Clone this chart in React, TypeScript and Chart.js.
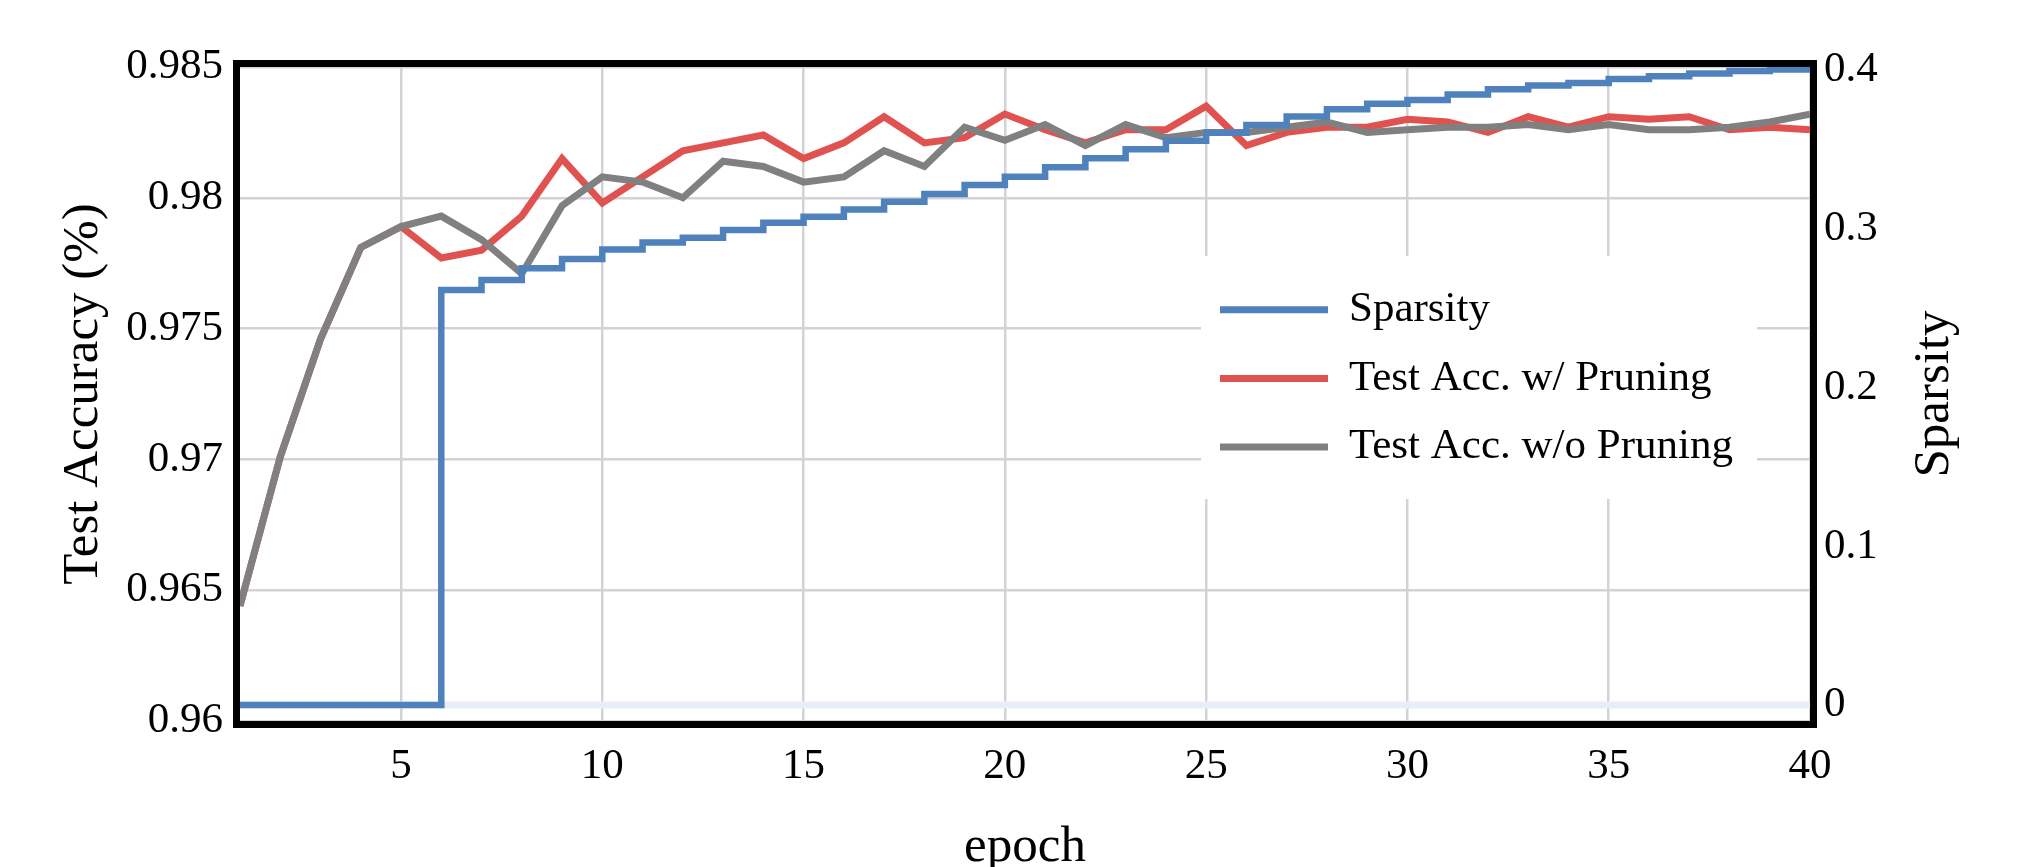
import React, { useEffect, useRef } from 'react';
import { Chart, registerables } from 'chart.js';

Chart.register(...registerables);

const epochs = [1, 2, 3, 4, 5, 6, 7, 8, 9, 10, 11, 12, 13, 14, 15, 16, 17, 18, 19, 20,
  21, 22, 23, 24, 25, 26, 27, 28, 29, 30, 31, 32, 33, 34, 35, 36, 37, 38, 39, 40];

const sparsity = [0, 0, 0, 0, 0, 0.2614, 0.2677, 0.2751, 0.2809, 0.2870, 0.2914, 0.2944, 0.2992,
  0.3038, 0.3076, 0.3122, 0.3170, 0.3219, 0.3275, 0.3328, 0.3387, 0.3444, 0.3501, 0.3555, 0.3605,
  0.3654, 0.3707, 0.3753, 0.3787, 0.3811, 0.3845, 0.3879, 0.3902, 0.3918, 0.3943, 0.3960, 0.3978,
  0.3994, 0.4003, 0.4006];

const accWithPruning = [0.9644, 0.9701, 0.9746, 0.9781, 0.9789, 0.9777, 0.9780, 0.9793, 0.9815,
  0.9798, 0.9808, 0.9818, 0.9821, 0.9824, 0.9815, 0.9821, 0.9831, 0.9821, 0.9823, 0.9832, 0.9826,
  0.9821, 0.9826, 0.9826, 0.9835, 0.9820, 0.9825, 0.9827, 0.9827, 0.9830, 0.9829, 0.9825, 0.9831,
  0.9827, 0.9831, 0.9830, 0.9831, 0.9826, 0.9827, 0.9826];

const accWithoutPruning = [0.9644, 0.9701, 0.9746, 0.9781, 0.9789, 0.9793, 0.9784, 0.9771, 0.9797,
  0.9808, 0.9806, 0.9800, 0.9814, 0.9812, 0.9806, 0.9808, 0.9818, 0.9812, 0.9827, 0.9822, 0.9828,
  0.9820, 0.9828, 0.9823, 0.9825, 0.9825, 0.9827, 0.9829, 0.9825, 0.9826, 0.9827, 0.9827, 0.9828,
  0.9826, 0.9828, 0.9826, 0.9826, 0.9827, 0.9829, 0.9832];

const xTicks = [5, 10, 15, 20, 25, 30, 35, 40];
const accTicks = [0.96, 0.965, 0.97, 0.975, 0.98, 0.985];
const accTickLabels = ['0.96', '0.965', '0.97', '0.975', '0.98', '0.985'];
const sparsityTicks = [0, 0.1, 0.2, 0.3, 0.4];
const sparsityTickLabels = ['0', '0.1', '0.2', '0.3', '0.4'];

const seriesLabels = ['Sparsity', 'Test Acc. w/ Pruning', 'Test Acc. w/o Pruning'];
const xTitle = 'epoch';
const yTitle = 'Test Accuracy (%)';
const y1Title = 'Sparsity';

const FONT = '"Liberation Serif", "Times New Roman", serif';
const BLUE = '#4f81bd';
const RED = '#e0524f';
const GRAY = '#808080';
const GRID = '#d3d3d7';

const zeroLinePlugin = {
  id: 'zeroLine',
  beforeDatasetsDraw(chart: any) {
    const { ctx, chartArea } = chart;
    const y = chart.scales.y1.getPixelForValue(0);
    ctx.save();
    ctx.strokeStyle = '#e8edf7';
    ctx.lineWidth = 7;
    ctx.beginPath();
    ctx.moveTo(chartArea.left, y);
    ctx.lineTo(chartArea.right, y);
    ctx.stroke();
    ctx.restore();
  },
};

const boxLegendPlugin = {
  id: 'boxLegend',
  afterDatasetsDraw(chart: any) {
    const { ctx, chartArea } = chart;
    const x0 = chartArea.right - 609;
    const y0 = chartArea.top + 189;
    ctx.save();
    ctx.fillStyle = '#ffffff';
    ctx.fillRect(x0, y0, 556, 243);
    chart.data.datasets.forEach((ds: any, i: number) => {
      const y = y0 + 53.7 + i * 68.7;
      ctx.strokeStyle = ds.borderColor;
      ctx.lineWidth = 7;
      ctx.beginPath();
      ctx.moveTo(x0 + 19, y);
      ctx.lineTo(x0 + 127, y);
      ctx.stroke();
      ctx.fillStyle = '#000';
      ctx.font = `43px ${FONT}`;
      ctx.textAlign = 'left';
      ctx.textBaseline = 'middle';
      ctx.fillText(ds.label, x0 + 148, y);
    });
    ctx.restore();
  },
};

const framePlugin = {
  id: 'frame',
  afterDraw(chart: any) {
    const { ctx, chartArea } = chart;
    ctx.save();
    ctx.strokeStyle = '#000';
    ctx.lineWidth = 7;
    ctx.lineJoin = 'miter';
    ctx.strokeRect(chartArea.left - 3.5, chartArea.top - 3.5,
      chartArea.right - chartArea.left + 7, chartArea.bottom - chartArea.top + 7);
    // right axis title, reading bottom to top
    ctx.fillStyle = '#000';
    ctx.font = `51px ${FONT}`;
    ctx.textAlign = 'center';
    ctx.textBaseline = 'middle';
    ctx.translate(chartArea.right + 124.5, (chartArea.top + chartArea.bottom) / 2);
    ctx.rotate(-Math.PI / 2);
    ctx.fillText(y1Title, 0, 0);
    ctx.restore();
  },
};

export default function App() {
  const ref = useRef<HTMLCanvasElement>(null);

  useEffect(() => {
    if (!ref.current) return;
    Chart.defaults.font.family = FONT;
    Chart.defaults.color = '#000';
    const toPts = (arr: number[]) => epochs.map((e, i) => ({ x: e, y: arr[i] }));
    const chart = new Chart(ref.current, {
      type: 'line',
      data: {
        datasets: [
          {
            label: seriesLabels[0],
            data: toPts(sparsity),
            yAxisID: 'y1',
            borderColor: BLUE,
            borderWidth: 6.5,
            stepped: 'before',
            pointRadius: 0,
            order: 0,
          },
          {
            label: seriesLabels[1],
            data: toPts(accWithPruning),
            yAxisID: 'y',
            borderColor: RED,
            borderWidth: 7,
            pointRadius: 0,
            tension: 0,
            order: 2,
          },
          {
            label: seriesLabels[2],
            data: toPts(accWithoutPruning),
            yAxisID: 'y',
            borderColor: GRAY,
            borderWidth: 7,
            pointRadius: 0,
            tension: 0,
            order: 1,
          },
        ],
      },
      options: {
        animation: false,
        responsive: false,
        devicePixelRatio: 1,
        layout: { padding: { top: 67, left: 0, right: 0, bottom: 0 } },
        plugins: {
          legend: { display: false },
          tooltip: { enabled: false },
        },
        scales: {
          x: {
            type: 'linear',
            position: 'bottom',
            min: 1,
            max: 40,
            afterBuildTicks: (scale: any) => {
              scale.ticks = xTicks.map((v) => ({ value: v }));
            },
            afterFit: (scale: any) => {
              scale.height = 146;
            },
            ticks: {
              autoSkip: false,
              maxRotation: 0,
              padding: 20,
              font: { size: 43, family: FONT },
              color: '#000',
              callback: (v: any) => String(v),
            },
            grid: { color: GRID, lineWidth: 2.5, drawTicks: false },
            border: { display: false },
            title: {
              display: true,
              text: xTitle,
              font: { size: 51, family: FONT },
              color: '#000',
              padding: { top: 0, bottom: -11.6 },
            },
          },
          y: {
            type: 'linear',
            position: 'left',
            min: 0.96,
            max: 0.985,
            afterBuildTicks: (scale: any) => {
              scale.ticks = accTicks.map((v) => ({ value: v }));
            },
            afterFit: (scale: any) => {
              scale.width = 240;
            },
            ticks: {
              padding: 17,
              font: { size: 43, family: FONT },
              color: '#000',
              callback: (_v: any, i: number) => accTickLabels[i],
            },
            grid: { color: GRID, lineWidth: 2.5, drawTicks: false },
            border: { display: false },
            title: {
              display: true,
              text: yTitle,
              font: { size: 51, family: FONT },
              color: '#000',
              padding: { top: 52.6, bottom: 0 },
            },
          },
          y1: {
            type: 'linear',
            position: 'right',
            min: -0.0101,
            max: 0.4019,
            afterBuildTicks: (scale: any) => {
              scale.ticks = sparsityTicks.map((v) => ({ value: v }));
            },
            afterFit: (scale: any) => {
              scale.width = 217;
            },
            ticks: {
              padding: 14,
              font: { size: 43, family: FONT },
              color: '#000',
              callback: (_v: any, i: number) => sparsityTickLabels[i],
            },
            grid: { display: false, drawTicks: false },
            border: { display: false },
            title: { display: false },
          },
        },
      } as any,
      plugins: [zeroLinePlugin, boxLegendPlugin, framePlugin],
    });
    return () => chart.destroy();
  }, []);

  return (
    <div style={{ position: 'fixed', left: 0, top: 0, width: 2027, height: 867, background: '#fff' }}>
      <canvas ref={ref} width={2027} height={867} style={{ display: 'block', width: '2027px', height: '867px' }} />
    </div>
  );
}
